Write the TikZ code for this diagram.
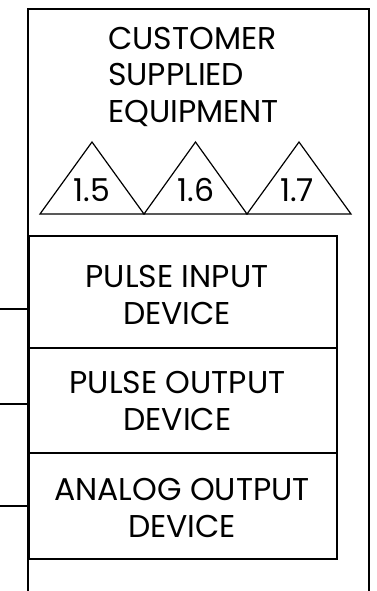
\documentclass[tikz,border=0pt]{standalone}
\usepackage{fontspec}
\setmainfont{Poppins}
\begin{document}
\begin{tikzpicture}[x=1pt,y=-1pt,
  lbl/.style={inner sep=0pt,font=\fontsize{31.5}{37}\selectfont,align=center},
  devbox/.style={draw,line width=1.6pt,minimum width=308pt,inner sep=0pt},
  tri/.style={draw,line width=1.2pt,line join=miter},
  wire/.style={draw,line width=1.4pt}]
\useasboundingbox (0,0) rectangle (377,591);
% outer frame (open at bottom)
\draw[line width=1.8pt] (28,600) -- (28,9) -- (369,9) -- (369,600);
% title
\node[lbl,font=\fontsize{31.5}{36.5}\selectfont,align=left,anchor=base west] (title) at (108,122) {CUSTOMER\\SUPPLIED\\EQUIPMENT};
% triangles
\path[tri] (40,214) -- (92,142) -- (144,214) -- cycle;
\path[tri] (144,214) -- (195.5,142) -- (247,214) -- cycle;
\path[tri] (247,214) -- (299,142) -- (351,214) -- cycle;
\node[lbl,anchor=base] (t15) at (92,201.5) {1.5};
\node[lbl,anchor=base] (t16) at (196,201.5) {1.6};
\node[lbl,anchor=base] (t17) at (297,201.5) {1.7};
% device boxes
\node[devbox,minimum height=112pt,anchor=north west] (b1) at (28,235) {};
\node[devbox,minimum height=105pt,anchor=north west] (b2) at (28,347) {};
\node[devbox,minimum height=106pt,anchor=north west] (b3) at (28,452) {};
\node[lbl,anchor=base] (l1) at (177,324) {PULSE INPUT\\DEVICE};
\node[lbl,anchor=base] (l2) at (177.5,430) {PULSE OUTPUT\\DEVICE};
\node[lbl,anchor=base] (l3) at (182,537) {ANALOG OUTPUT\\DEVICE};
% wires
\coordinate (w1) at (0,309);
\coordinate (w2) at (0,404);
\coordinate (w3) at (0,506);
\draw[wire] (w1) -- (w1 -| b1.west);
\draw[wire] (w2) -- (w2 -| b2.west);
\draw[wire] (w3) -- (w3 -| b3.west);
\end{tikzpicture}
\end{document}
